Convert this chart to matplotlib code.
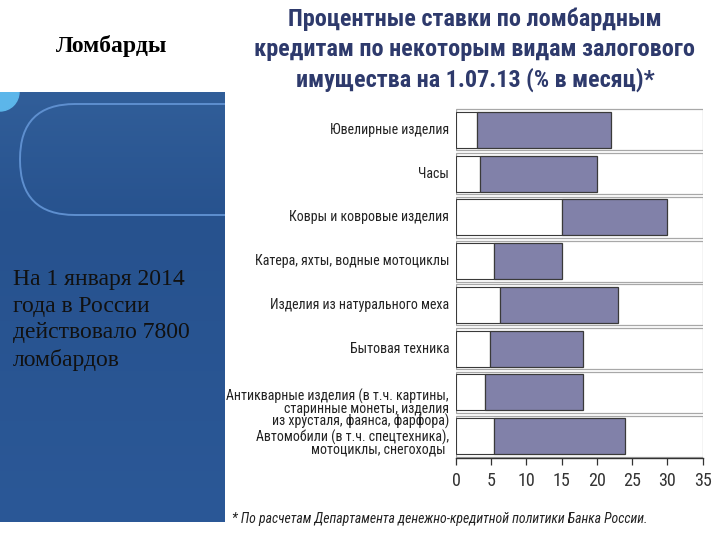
import numpy as np
import matplotlib.pyplot as plt
from matplotlib.patches import FancyBboxPatch, Circle, Rectangle

# Data: rate ranges (% per month) by collateral type
categories = [
    'Ювелирные изделия',
    'Часы',
    'Ковры и ковровые изделия',
    'Катера, яхты, водные мотоциклы',
    'Изделия из натурального меха',
    'Бытовая техника',
    'Антикварные изделия (в т.ч. картины,\nстаринные монеты, изделия\nиз хрусталя, фаянса, фарфора)',
    'Автомобили (в т.ч. спецтехника),\nмотоциклы, снегоходы ',
]
rate_min = [3.0, 3.4, 15.0, 5.4, 6.3, 4.8, 4.1, 5.4]
rate_max = [22.0, 20.0, 30.0, 15.0, 23.0, 18.0, 18.0, 24.0]
xticks = [0, 5, 10, 15, 20, 25, 30, 35]

# Fonts
narrow = ['Roboto Condensed', 'DejaVu Sans']
serif = ['Liberation Serif', 'DejaVu Serif']

W, H = 720, 540
fig = plt.figure(figsize=(7.2, 5.4), dpi=100)

# Blue side panel
pan = fig.add_axes([0, 1 - 522 / H, 225 / W, (522 - 92) / H])
pan.set_xlim(0, 225)
pan.set_ylim(522, 92)
pan.axis('off')
top = np.array([0x31, 0x5e, 0x99]) / 255
mid = np.array([0x27, 0x52, 0x8e]) / 255
bot = np.array([0x2b, 0x58, 0x97]) / 255
t = np.linspace(0, 1, 200)[:, None]
grad = np.where(t < 0.3, top + (mid - top) * (t / 0.3), mid + (bot - mid) * ((t - 0.3) / 0.7))
pan.imshow(grad[:, None, :].repeat(2, axis=1), extent=[0, 225, 522, 92], aspect='auto')
clip = Rectangle((0, 92), 225, 430, transform=pan.transData)
pill = FancyBboxPatch((20, 104), 320, 111, boxstyle='round,pad=0,rounding_size=55',
                      facecolor='none', edgecolor='#5e8fcf', lw=1.4)
pan.add_patch(pill)
pill.set_clip_path(clip)
dot = Circle((0, 92), 19, color='#5cb6ea')
pan.add_patch(dot)
dot.set_clip_path(clip)

fig.text(112 / W, 1 - 46 / H, 'Ломбарды', ha='center', va='center',
         family=serif, fontweight='bold', fontsize=17, color='black')
fig.text(13 / W, 1 - 320 / H, 'На 1 января 2014\nгода в России\nдействовало 7800\nломбардов',
         ha='left', va='center', family=serif, fontsize=17, linespacing=1.33, color='#111111')

# Chart title
fig.text(475 / W, 1 - 50 / H,
         'Процентные ставки по ломбардным\nкредитам по некоторым видам залогового\nимущества на 1.07.13 (% в месяц)*',
         ha='center', va='center', family=narrow, fontweight='bold', fontsize=17.4,
         linespacing=1.36, color='#2e3a6c')

# Range bar chart
ax = fig.add_axes([456 / W, 1 - 458 / H, (702.7 - 456) / W, (458 - 108) / H])
y = np.arange(len(categories))
for i in y:
    ax.add_patch(Rectangle((0, i - 0.47), 35, 0.94, facecolor='white',
                           edgecolor='#a8a8a8', lw=0.9, zorder=1))
ax.barh(y, rate_min, height=0.82, color='white', edgecolor='#3a3a3a', lw=0.8, zorder=2)
ax.barh(y, np.array(rate_max) - np.array(rate_min), left=rate_min, height=0.82,
        color='#8181a9', edgecolor='#3a3a3a', lw=0.9, zorder=3)

ax.set_xlim(0, 35)
ax.set_ylim(len(categories) - 0.5, -0.5)
for s in ['top', 'right', 'left']:
    ax.spines[s].set_visible(False)
ax.spines['bottom'].set_color('#333333')
ax.spines['bottom'].set_linewidth(1.0)
ax.set_yticks([])
ax.set_xticks(xticks)
ax.tick_params(axis='x', direction='out', length=5, width=0.9, color='#333333',
               labelsize=13, labelcolor='#333333', pad=5)
for lab in ax.get_xticklabels():
    lab.set_family(narrow)

offsets = [0, 0, 0, 0, 0, 0, -12, -5]
for i, (cat, off) in enumerate(zip(categories, offsets)):
    ax.annotate(cat, xy=(0, i), xycoords=('axes fraction', 'data'),
                xytext=(-5, off), textcoords='offset points', ha='right', va='center',
                family=narrow, fontsize=10, linespacing=0.8, color='#222222')

# Footnote
fig.text(232 / W, 1 - 519 / H,
         '* По расчетам Департамента денежно-кредитной политики Банка России.',
         ha='left', va='center', family=narrow, style='italic', fontsize=9.9, color='#222222')

fig.savefig('out.png', dpi=100)
